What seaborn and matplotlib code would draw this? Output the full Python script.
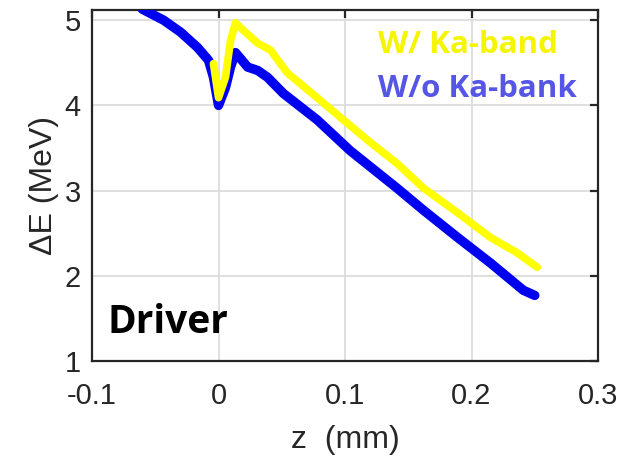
import matplotlib
matplotlib.use("Agg")
import matplotlib.pyplot as plt
import seaborn as sns
import pandas as pd

# Energy spread along the driver bunch, with and without the Ka-band linearizer
z_without = [-0.0603, -0.0434, -0.030, -0.0166, -0.0079, -0.004, 0.0, 0.0055, 0.0095,
             0.0134, 0.0174, 0.023, 0.031, 0.0387, 0.0513, 0.078, 0.104, 0.141,
             0.162, 0.189, 0.215, 0.241, 0.250]
dE_without = [5.13, 5.00, 4.86, 4.68, 4.53, 4.33, 4.00, 4.21, 4.45,
              4.62, 4.55, 4.45, 4.41, 4.33, 4.14, 3.83, 3.47, 3.03,
              2.77, 2.45, 2.15, 1.83, 1.77]

z_with = [-0.004, 0.0, 0.0055, 0.0095, 0.0134, 0.0197, 0.031, 0.041, 0.0545,
          0.078, 0.0987, 0.118, 0.141, 0.162, 0.189, 0.215, 0.236, 0.252]
dE_with = [4.49, 4.09, 4.33, 4.76, 4.97, 4.88, 4.73, 4.65, 4.38,
           4.09, 3.83, 3.59, 3.32, 3.03, 2.74, 2.45, 2.27, 2.10]

x_ticks = [-0.1, 0, 0.1, 0.2, 0.3]
x_tick_labels = ["-0.1", "0", "0.1", "0.2", "0.3"]
y_ticks = [1, 2, 3, 4, 5]

df_without = pd.DataFrame({"z": z_without, "dE": dE_without})
df_with = pd.DataFrame({"z": z_with, "dE": dE_with})

sns.set_style("white")
plt.rcParams["font.family"] = ["Liberation Sans", "DejaVu Sans"]

fig = plt.figure(figsize=(6.23, 4.62), dpi=100)
ax = fig.add_axes([0.1477, 0.2186, 0.8122, 0.7598])

sns.lineplot(data=df_without, x="z", y="dE", ax=ax, color="#0000f0",
             linewidth=6.8, sort=False, estimator=None, zorder=3)
sns.lineplot(data=df_with, x="z", y="dE", ax=ax, color="#ffff00",
             linewidth=5.5, sort=False, estimator=None, zorder=4)

ax.set_xlim(-0.1, 0.3)
ax.set_ylim(1, 5.12)
ax.set_xticks(x_ticks)
ax.set_xticklabels(x_tick_labels)
ax.set_yticks(y_ticks)

ax.grid(True, color="#dcdcdc", linewidth=1.3)
ax.set_axisbelow(True)
for s in ax.spines.values():
    s.set_color("#262626")
    s.set_linewidth(1.6)
    s.set_visible(True)

ax.tick_params(axis="both", direction="in", length=6, width=1.6, color="#262626",
               labelsize=21, labelcolor="#262626", top=True, right=True)
ax.tick_params(axis="x", pad=15)
ax.tick_params(axis="y", pad=8)

ax.set_xlabel("z  (mm)", fontsize=23, color="#262626", labelpad=11)
ax.set_ylabel("ΔE (MeV)", fontsize=23, color="#262626", labelpad=4)

ax.text(0.565, 4.61, "W/ Ka-band", transform=ax.get_yaxis_transform(), fontsize=22.5,
        fontweight="bold", color="#f5f500", family="Open Sans", va="baseline")
ax.text(0.565, 4.095, "W/o Ka-bank", transform=ax.get_yaxis_transform(), fontsize=22.5,
        fontweight="bold", color="#5555e6", family="Open Sans", va="baseline")
ax.text(0.031, 0.08, "Driver", transform=ax.transAxes, fontsize=28,
        fontweight="bold", color="black", family="Open Sans", va="baseline")

fig.savefig("out.png", dpi=100, facecolor="white")
